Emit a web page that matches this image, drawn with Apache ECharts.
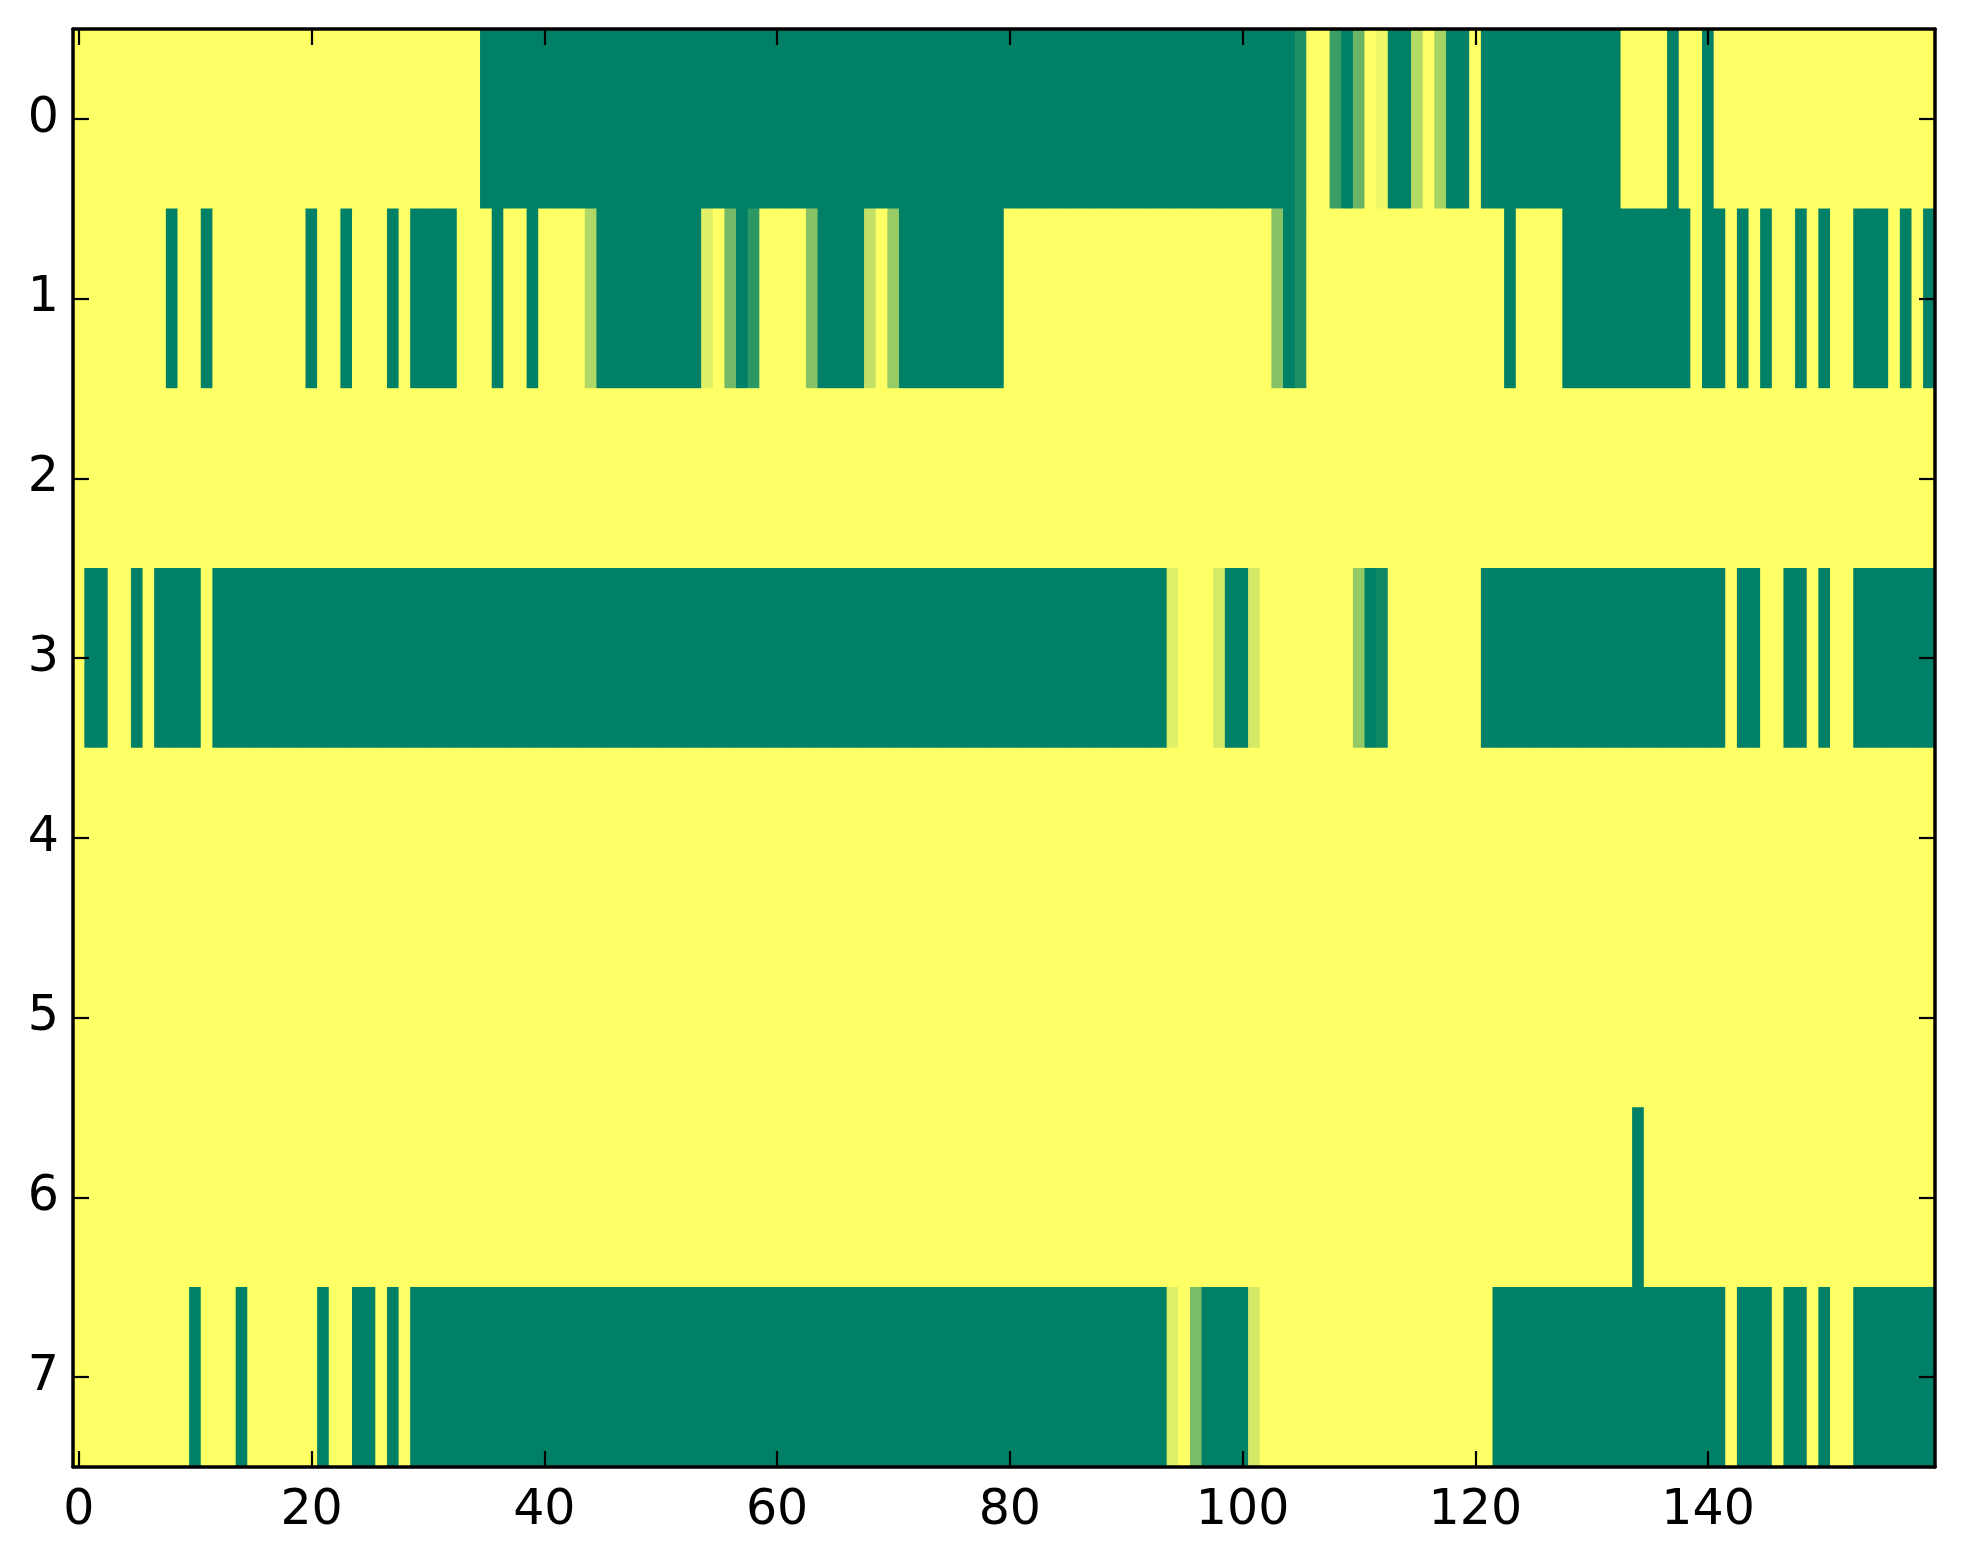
<!DOCTYPE html>
<html>
<head>
<meta charset="utf-8">
<script src="https://cdn.jsdelivr.net/npm/echarts@6/dist/echarts.min.js"></script>
<style>
html,body{margin:0;padding:0;background:#fff;}
#chart{width:1963px;height:1564px;}
</style>
</head>
<body>
<div id="chart"></div>
<script>
// Row values (0 = dark green, 1 = yellow), 160 columns each
var row0 = [
1,1,1,1,1,1,1,1,1,1,1,1,1,1,1,1,1,1,1,1,
1,1,1,1,1,1,1,1,1,1,1,1,1,1,1,0,0,0,0,0,
0,0,0,0,0,0,0,0,0,0,0,0,0,0,0,0,0,0,0,0,
0,0,0,0,0,0,0,0,0,0,0,0,0,0,0,0,0,0,0,0,
0,0,0,0,0,0,0,0,0,0,0,0,0,0,0,0,0,0,0,0,
0,0,0,0,0,0.12,1,1,0.23,0,0.42,1,0.93,0,0,0.7,1,0.65,0,0,
1,0,0,0,0,0,0,0,0,0,0,0,0,1,1,1,1,0,1,1,
0,1,1,1,1,1,1,1,1,1,1,1,1,1,1,1,1,1,1,1
];
var row1 = [
1,1,1,1,1,1,1,1,0,1,1,0,1,1,1,1,1,1,1,1,
0,1,1,0,1,1,1,0,1,0,0,0,0,1,1,1,0,1,1,0,
1,1,1,1,0.69,0,0,0,0,0,0,0,0,0,0.88,1,0.45,0,0.18,1,
1,1,1,0.53,0,0,0,0,0.76,1,0.59,0,0,0,0,0,0,0,0,0,
1,1,1,1,1,1,1,1,1,1,1,1,1,1,1,1,1,1,1,1,
1,1,1,0.53,0,0.12,1,1,1,1,1,1,1,1,1,1,1,1,1,1,
1,1,1,0,1,1,1,1,0,0,0,0,0,0,0,0,0,0,0,1,
0,0,1,0,1,0,1,1,0,1,0,1,1,0,0,0,1,0,1,0
];
var row2 = [
1,1,1,1,1,1,1,1,1,1,1,1,1,1,1,1,1,1,1,1,
1,1,1,1,1,1,1,1,1,1,1,1,1,1,1,1,1,1,1,1,
1,1,1,1,1,1,1,1,1,1,1,1,1,1,1,1,1,1,1,1,
1,1,1,1,1,1,1,1,1,1,1,1,1,1,1,1,1,1,1,1,
1,1,1,1,1,1,1,1,1,1,1,1,1,1,1,1,1,1,1,1,
1,1,1,1,1,1,1,1,1,1,1,1,1,1,1,1,1,1,1,1,
1,1,1,1,1,1,1,1,1,1,1,1,1,1,1,1,1,1,1,1,
1,1,1,1,1,1,1,1,1,1,1,1,1,1,1,1,1,1,1,1
];
var row3 = [
1,0,0,1,1,0,1,0,0,0,0,1,0,0,0,0,0,0,0,0,
0,0,0,0,0,0,0,0,0,0,0,0,0,0,0,0,0,0,0,0,
0,0,0,0,0,0,0,0,0,0,0,0,0,0,0,0,0,0,0,0,
0,0,0,0,0,0,0,0,0,0,0,0,0,0,0,0,0,0,0,0,
0,0,0,0,0,0,0,0,0,0,0,0,0,0,0.88,1,1,1,0.83,0,
0,0.83,1,1,1,1,1,1,1,1,0.58,0,0.06,1,1,1,1,1,1,1,
1,0,0,0,0,0,0,0,0,0,0,0,0,0,0,0,0,0,0,0,
0,0,1,0,0,1,1,0,0,1,0,1,1,0,0,0,0,0,0,0
];
var row4 = [
1,1,1,1,1,1,1,1,1,1,1,1,1,1,1,1,1,1,1,1,
1,1,1,1,1,1,1,1,1,1,1,1,1,1,1,1,1,1,1,1,
1,1,1,1,1,1,1,1,1,1,1,1,1,1,1,1,1,1,1,1,
1,1,1,1,1,1,1,1,1,1,1,1,1,1,1,1,1,1,1,1,
1,1,1,1,1,1,1,1,1,1,1,1,1,1,1,1,1,1,1,1,
1,1,1,1,1,1,1,1,1,1,1,1,1,1,1,1,1,1,1,1,
1,1,1,1,1,1,1,1,1,1,1,1,1,1,1,1,1,1,1,1,
1,1,1,1,1,1,1,1,1,1,1,1,1,1,1,1,1,1,1,1
];
var row5 = [
1,1,1,1,1,1,1,1,1,1,1,1,1,1,1,1,1,1,1,1,
1,1,1,1,1,1,1,1,1,1,1,1,1,1,1,1,1,1,1,1,
1,1,1,1,1,1,1,1,1,1,1,1,1,1,1,1,1,1,1,1,
1,1,1,1,1,1,1,1,1,1,1,1,1,1,1,1,1,1,1,1,
1,1,1,1,1,1,1,1,1,1,1,1,1,1,1,1,1,1,1,1,
1,1,1,1,1,1,1,1,1,1,1,1,1,1,1,1,1,1,1,1,
1,1,1,1,1,1,1,1,1,1,1,1,1,1,1,1,1,1,1,1,
1,1,1,1,1,1,1,1,1,1,1,1,1,1,1,1,1,1,1,1
];
var row6 = [
1,1,1,1,1,1,1,1,1,1,1,1,1,1,1,1,1,1,1,1,
1,1,1,1,1,1,1,1,1,1,1,1,1,1,1,1,1,1,1,1,
1,1,1,1,1,1,1,1,1,1,1,1,1,1,1,1,1,1,1,1,
1,1,1,1,1,1,1,1,1,1,1,1,1,1,1,1,1,1,1,1,
1,1,1,1,1,1,1,1,1,1,1,1,1,1,1,1,1,1,1,1,
1,1,1,1,1,1,1,1,1,1,1,1,1,1,1,1,1,1,1,1,
1,1,1,1,1,1,1,1,1,1,1,1,1,1,0,1,1,1,1,1,
1,1,1,1,1,1,1,1,1,1,1,1,1,1,1,1,1,1,1,1
];
var row7 = [
1,1,1,1,1,1,1,1,1,1,0,1,1,1,0,1,1,1,1,1,
1,0,1,1,0,0,1,0,1,0,0,0,0,0,0,0,0,0,0,0,
0,0,0,0,0,0,0,0,0,0,0,0,0,0,0,0,0,0,0,0,
0,0,0,0,0,0,0,0,0,0,0,0,0,0,0,0,0,0,0,0,
0,0,0,0,0,0,0,0,0,0,0,0,0,0,0.88,1,0.48,0,0,0,
0,0.83,1,1,1,1,1,1,1,1,1,1,1,1,1,1,1,1,1,1,
1,1,0,0,0,0,0,0,0,0,0,0,0,0,0,0,0,0,0,0,
0,0,1,0,0,0,1,0,0,1,0,1,1,0,0,0,0,0,0,0
];
var rows = [row0,row1,row2,row3,row4,row5,row6,row7];
var yCategories = ['0','1','2','3','4','5','6','7'];
var xTickLabels = ['0','20','40','60','80','100','120','140'];
var xCategories = [];
for (var i = 0; i < row0.length; i++) xCategories.push(String(i));

var data = [];
rows.forEach(function (r, yi) {
  r.forEach(function (v, xi) { data.push([xi, yi, v]); });
});

var FONT = 'DejaVu Sans';
var FS = 49;
function isTick(idx) { return xTickLabels.indexOf(String(idx)) >= 0; }

var chart = echarts.init(document.getElementById('chart'), null, {renderer: 'canvas'});
var lineStyle = {color: '#000', width: 3.5};
var tickStyle = {color: '#000', width: 2.2};
function heat() {
  return {
    type: 'heatmap', xAxisIndex: 0, yAxisIndex: 0, data: data,
    itemStyle: {borderWidth: 0},
    emphasis: {disabled: true},
    progressive: 0
  };
}
chart.setOption({
  animation: false,
  backgroundColor: '#fff',
  grid: {left: 73, right: 28, top: 29, bottom: 97, containLabel: false, outerBoundsMode: 'none'},
  visualMap: {show: false, type: 'continuous', min: 0, max: 1, dimension: 2,
    inRange: {color: ['#008066', '#ffff66']}},
  xAxis: [{
    type: 'category', data: xCategories, position: 'bottom', z: 10,
    axisLine: {show: true, lineStyle: lineStyle},
    axisTick: {show: true, inside: true, length: 16, alignWithLabel: true,
      interval: function (idx) { return isTick(idx); }, lineStyle: tickStyle},
    axisLabel: {show: true, margin: 20, fontFamily: FONT, fontSize: FS, color: '#000',
      interval: function (idx) { return isTick(idx); }},
    splitLine: {show: false}, splitArea: {show: false}
  }, {
    type: 'category', data: xCategories, position: 'top', z: 10,
    axisLine: {show: true, lineStyle: lineStyle},
    axisTick: {show: true, inside: true, length: 16, alignWithLabel: true,
      interval: function (idx) { return isTick(idx); }, lineStyle: tickStyle},
    axisLabel: {show: false},
    splitLine: {show: false}, splitArea: {show: false}
  }],
  yAxis: [{
    type: 'category', data: yCategories, inverse: true, position: 'left', z: 10,
    axisLine: {show: true, lineStyle: lineStyle},
    axisTick: {show: true, inside: true, length: 16, alignWithLabel: true, interval: 0, lineStyle: tickStyle},
    axisLabel: {show: true, margin: 14, fontFamily: FONT, fontSize: FS, color: '#000', interval: 0},
    splitLine: {show: false}, splitArea: {show: false}
  }, {
    type: 'category', data: yCategories, inverse: true, position: 'right', z: 10,
    axisLine: {show: true, lineStyle: lineStyle},
    axisTick: {show: true, inside: true, length: 16, alignWithLabel: true, interval: 0, lineStyle: tickStyle},
    axisLabel: {show: false},
    splitLine: {show: false}, splitArea: {show: false}
  }],
  series: [heat(), heat(), heat()]
});
</script>
</body>
</html>
